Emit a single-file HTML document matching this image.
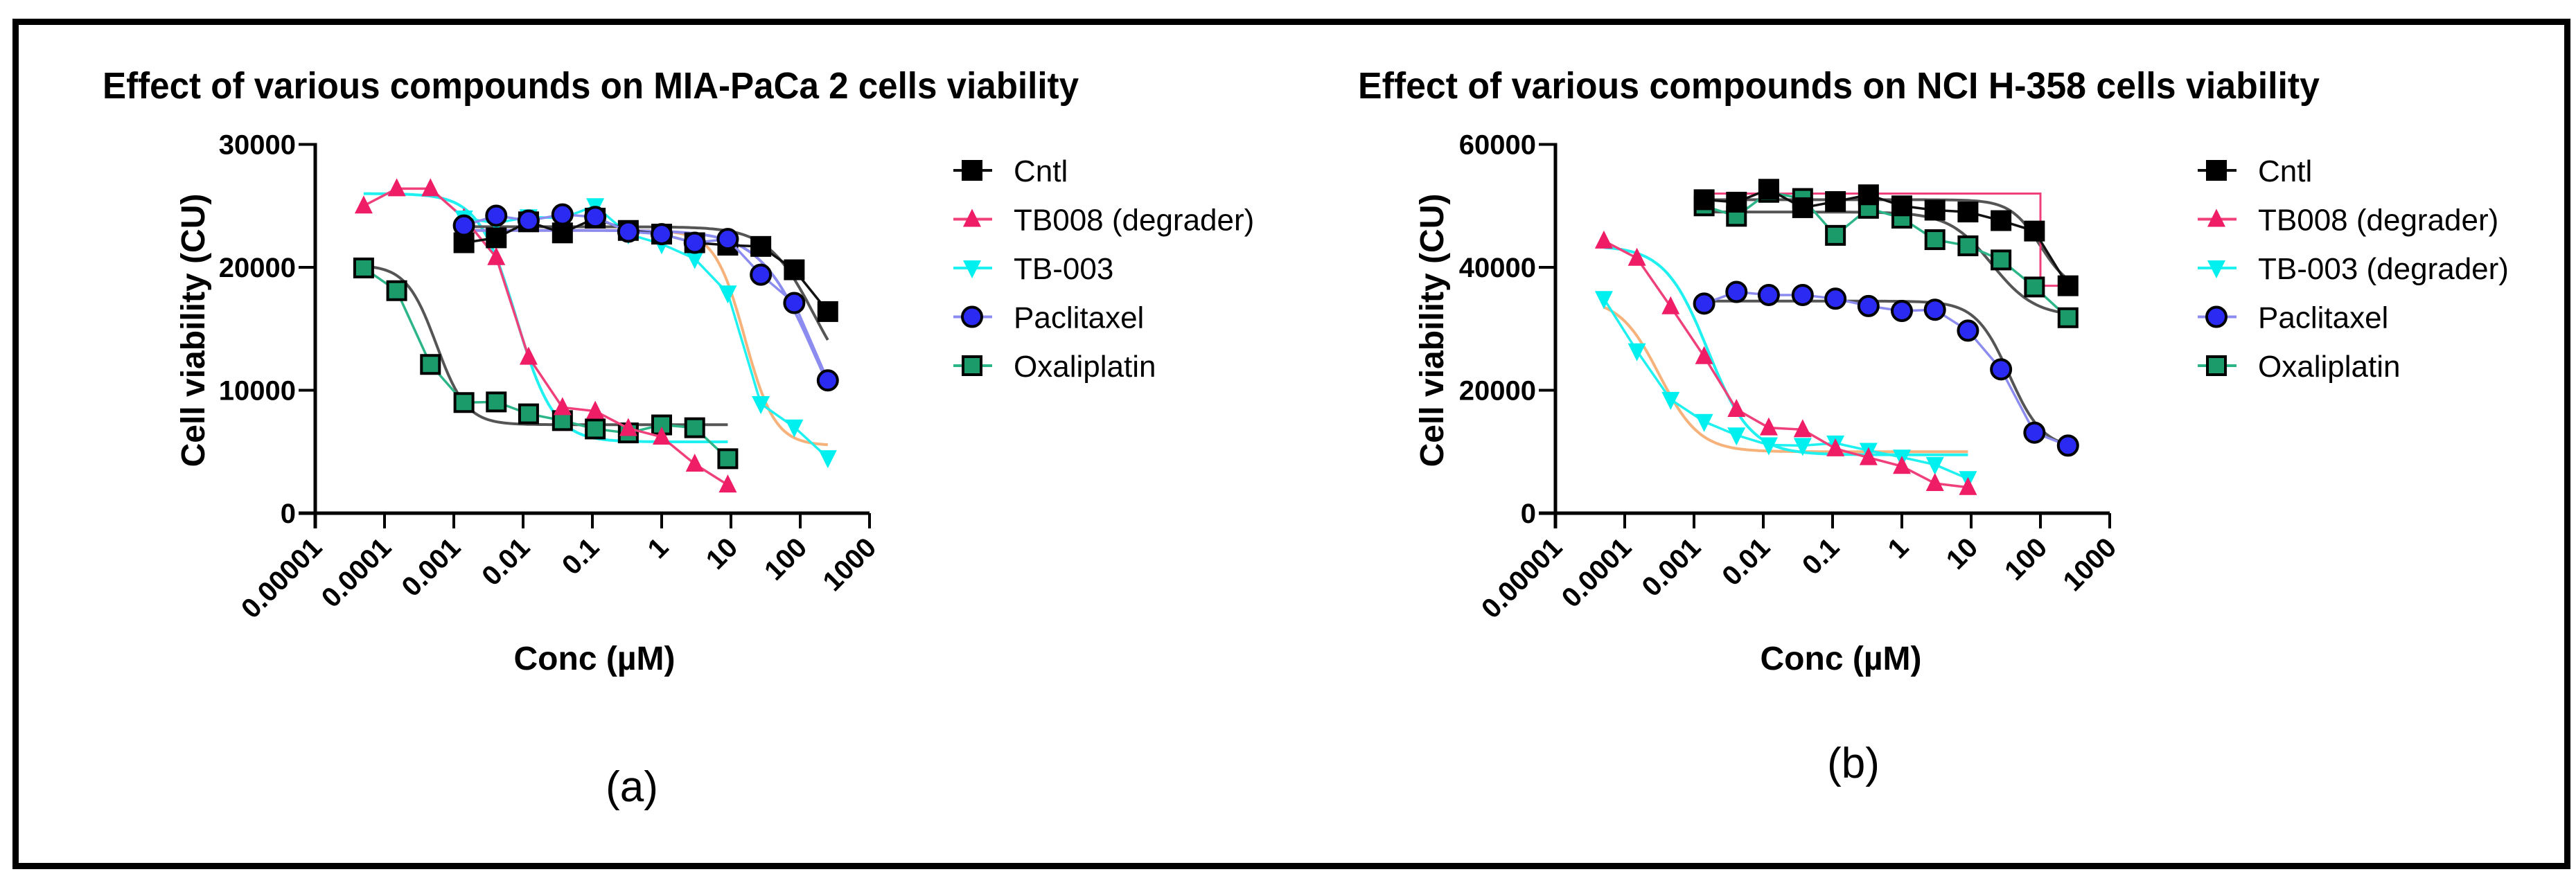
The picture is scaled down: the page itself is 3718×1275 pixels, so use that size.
<!DOCTYPE html>
<html><head><meta charset="utf-8">
<style>
html,body{margin:0;padding:0;background:#fff;}
svg{display:block;}
text{font-family:"Liberation Sans",Arial,sans-serif;}
</style></head>
<body>
<svg id="fig" width="3718" height="1275" viewBox="0 0 3718 1275" xmlns="http://www.w3.org/2000/svg">
<rect x="0" y="0" width="3718" height="1275" fill="#fff"/>
<rect x="22.5" y="31.5" width="3683" height="1219" fill="none" stroke="#000" stroke-width="9"/>
<g id="chartA"></g>
<g id="chartB"></g>
<text x="912" y="1157" font-size="62" text-anchor="middle">(a)</text>
<text x="2675" y="1123" font-size="62" text-anchor="middle">(b)</text>
</svg>
<script>
// ---- shared data ----
const concLow = [0.00005,0.00015,0.00046,0.0014,0.0041,0.012,0.037,0.11,0.33,1,3,9];
const concHigh = [0.0014,0.0041,0.012,0.037,0.11,0.33,1,3,9,27,82,250];
const xTicks = [0.00001,0.0001,0.001,0.01,0.1,1,10,100,1000];
const xTickLabels = ["0.00001","0.0001","0.001","0.01","0.1","1","10","100","1000"];
const seriesNames = ["Cntl","TB008 (degrader)","TB-003","Paclitaxel","Oxaliplatin"];
const seriesNamesB = ["Cntl","TB008 (degrader)","TB-003 (degrader)","Paclitaxel","Oxaliplatin"];

// ---- chart (a) data ----
const aYTicks = [0,10000,20000,30000];
const aCntl = [22000,22400,23700,22800,24000,23000,22700,22000,21800,21700,19800,16400];
const aTB008 = [25000,26400,26400,24000,20800,12700,8600,8300,6900,6200,4000,2300];
const aTB003 = [24000,23600,24100,24000,25000,22700,21900,20700,17900,8900,7000,4500];
const aPacli = [23400,24200,23800,24300,24100,22900,22700,22000,22300,19400,17100,10800];
const aOxali = [19950,18100,12100,9000,9050,8080,7530,6850,6530,7180,6950,4430];
// fit curves: [top, bottom, logEC50, hill]
const aFitCntl = [23300,9000,2.2,1.3];
const aFitTB008 = [26000,5800,-2.1,1.6];
const aFitTB003 = [23000,5500,1.2,2.0];
const aFitPacli = [23000,3000,2.2,1.1];
const aFitOxali = [20200,7200,-3.25,2.0];

// ---- chart (b) data ----
const bYTicks = [0,20000,40000,60000];
const bCntl = [51000,50600,52700,49700,50700,51800,50000,49300,49000,47600,45900,37000];
const bTB008 = [44300,41500,33600,25500,16900,13900,13600,10500,9050,7630,4850,4200];
const bTB003 = [34900,26400,18500,14900,12700,11100,11000,11400,10200,9100,7900,5600];
const bPacli = [34100,36000,35500,35500,34900,33700,32900,33100,29700,23400,13100,11000];
const bOxali = [50000,48300,52200,51200,45200,49600,48000,44500,43500,41200,36800,31800];
const bFitCntl = [51000,36000,2.0,2.0];
const bFitOxali = [49000,32000,1.3,1.4];
const bFitPacli = [34500,10500,1.55,1.8];
const bFitTB008 = [43500,9500,-2.8,1.4];
const bFitTB003 = [35000,10000,-3.5,1.5];
const bStepX = [0.0016,100,100,250];
const bStepY = [52000,52000,37000,37000];

const NS = "http://www.w3.org/2000/svg";
function mk(tag, attrs, parent){
  const e = document.createElementNS(NS, tag);
  for (const k in attrs) e.setAttribute(k, attrs[k]);
  parent.appendChild(e);
  return e;
}

const COL = {
  cntl:{line:"#111", fill:"#000"},
  tb008:{line:"#f0407a", fill:"#ee1d66"},
  tb003:{line:"#1ff0f0", fill:"#00f0f0"},
  pacli:{line:"#8c8cf0", fill:"#2a2af2"},
  oxali:{line:"#2db58a", fill:"#1b9a6a"}
};

function drawChart(g, o){
  const x0 = o.x0, y0 = 741, yTop = 208.5;
  const sx = v => x0 + (Math.log10(v) + 5) * 100;
  const sy = v => y0 - (v / o.yMax) * (y0 - yTop);
  let t = mk("text",{x:o.titleX,y:142,"font-size":54,"font-weight":"bold",textLength:o.titleW,lengthAdjust:"spacingAndGlyphs"},g);
  
  
  t.textContent = o.title;
  let ya = mk("line",{x1:x0,y1:yTop-2,x2:x0,y2:y0+22,stroke:"#000","stroke-width":5},g);
  
  
  let xa = mk("line",{x1:x0-24,y1:y0,x2:x0+800,y2:y0,stroke:"#000","stroke-width":5},g);
  
  
  o.yTicks.forEach(v=>{
    const y = sy(v);
    let tk = mk("line",{x1:x0-24,y1:y,x2:x0,y2:y,stroke:"#000","stroke-width":4},g);
    
    
    let lb = mk("text",{x:x0-28,y:y+14,"font-size":40,"font-weight":"bold","text-anchor":"end"},g);
    
    
    lb.textContent = String(v);
  });
  xTicks.forEach((v,i)=>{
    const x = sx(v);
    let tk = mk("line",{x1:x,y1:y0,x2:x,y2:y0+22,stroke:"#000","stroke-width":4},g);
    
    
    const px = x+12, py = y0+52;
    let lb = mk("text",{x:px,y:py,"font-size":40,"font-weight":"bold","text-anchor":"end",transform:`rotate(-45 ${px} ${py})`},g);
    
    
    lb.textContent = xTickLabels[i];
  });
  let yt = mk("text",{x:0,y:0,"font-size":48,"font-weight":"bold","text-anchor":"middle",transform:`translate(${o.yTitleX} ${477}) rotate(-90)`},g);
  
  
  yt.textContent = "Cell viability (CU)";
  let xt = mk("text",{x:o.xTitleX,y:967,"font-size":48,"font-weight":"bold","text-anchor":"middle"},g);
  
  
  xt.textContent = "Conc (\u00b5M)";

  function fit(p, lo, hi, color, name){
    const pts = [];
    const a = Math.log10(lo), b = Math.log10(hi);
    for (let i=0;i<=120;i++){
      const lx = a + (b-a)*i/120;
      const v = p[1] + (p[0]-p[1]) / (1 + Math.pow(10, (lx - p[2]) * p[3]));
      pts.push((x0+(lx+5)*100).toFixed(1)+","+sy(v).toFixed(1));
    }
    let pl = mk("polyline",{points:pts.join(" "),fill:"none",stroke:color,"stroke-width":4},g);
    
    
  }
  o.fits.forEach(f=>fit(f.p, f.lo, f.hi, f.color, f.name));
  if (o.step){
    let pl = mk("polyline",{points:o.step[0].map((v,i)=>sx(v)+","+sy(o.step[1][i])).join(" "),fill:"none",stroke:"#f0407a","stroke-width":3},g);
    
    
  }

  function marker(kind, cx, cy, col, parent, name){
    let m;
    if (kind==="sq") m = mk("rect",{x:cx-13,y:cy-13,width:26,height:26,fill:col.fill,stroke:"#000","stroke-width":4},parent);
    else if (kind==="circ") m = mk("circle",{cx:cx,cy:cy,r:14,fill:col.fill,stroke:"#000","stroke-width":4},parent);
    else if (kind==="up") m = mk("polygon",{points:`${cx},${cy-15} ${cx+13},${cy+11} ${cx-13},${cy+11}`,fill:col.fill},parent);
    else m = mk("polygon",{points:`${cx},${cy+15} ${cx+13},${cy-11} ${cx-13},${cy-11}`,fill:col.fill},parent);
    
    
  }
  o.series.forEach(s=>{
    const sg = mk("g",{},g);
    
    
    let pl = mk("polyline",{points:s.x.map((c,i)=>sx(c)+","+sy(s.y[i])).join(" "),fill:"none",stroke:s.col.line,"stroke-width":3.5},sg);
    
    
    s.x.forEach((c,i)=>marker(s.kind, sx(c), sy(s.y[i]), s.col, sg, s.name+'-point'));
  });

  const kinds = ["sq","up","down","circ","sq"];
  const cols = [COL.cntl,COL.tb008,COL.tb003,COL.pacli,COL.oxali];
  o.legendNames.forEach((n,i)=>{
    const ly = 246 + i*70.5;
    const lg = mk("g",{},g);
    
    
    let ll = mk("line",{x1:o.legX-27,y1:ly,x2:o.legX+29,y2:ly,stroke:cols[i].line,"stroke-width":4},lg);
    
    
    marker(kinds[i], o.legX, ly, cols[i], lg, 'legend-marker');
    let lt = mk("text",{x:o.legX+60,y:ly+16,"font-size":44},lg);
    
    
    lt.textContent = n;
  });
}

drawChart(document.getElementById("chartA"),{
  x0:455, yMax:30000, yTicks:aYTicks,
  title:"Effect of various compounds on MIA-PaCa 2 cells viability", titleX:148, titleW:1409,
  yTitleX:295, xTitleX:858, legX:1403, legendNames:seriesNames,
  fits:[
    {p:aFitOxali, lo:0.00005, hi:9, color:"#555", name:"oxaliplatin-fit"},
    {p:aFitTB008, lo:0.00005, hi:9, color:"#1ff0f0", name:"tb008-fit"},
    {p:aFitTB003, lo:0.0014, hi:250, color:"#f6b27a", name:"tb003-fit"},
    {p:aFitCntl, lo:0.0014, hi:250, color:"#555", name:"cntl-fit"},
    {p:aFitPacli, lo:0.0014, hi:250, color:"#8c8cf0", name:"paclitaxel-fit"}
  ],
  series:[
    {name:"oxaliplatin", x:concLow, y:aOxali, kind:"sq", col:COL.oxali},
    {name:"tb008", x:concLow, y:aTB008, kind:"up", col:COL.tb008},
    {name:"tb003", x:concHigh, y:aTB003, kind:"down", col:COL.tb003},
    {name:"cntl", x:concHigh, y:aCntl, kind:"sq", col:COL.cntl},
    {name:"paclitaxel", x:concHigh, y:aPacli, kind:"circ", col:COL.pacli}
  ]
});

drawChart(document.getElementById("chartB"),{
  x0:2245, yMax:60000, yTicks:bYTicks,
  title:"Effect of various compounds on NCI H-358 cells viability", titleX:1960, titleW:1388,
  yTitleX:2083, xTitleX:2657, legX:3199, legendNames:seriesNamesB,
  step:[bStepX,bStepY],
  fits:[
    {p:bFitTB003, lo:0.00005, hi:9, color:"#f6b27a", name:"tb003-fit"},
    {p:bFitTB008, lo:0.00005, hi:9, color:"#1ff0f0", name:"tb008-fit"},
    {p:bFitCntl, lo:0.0014, hi:250, color:"#555", name:"cntl-fit"},
    {p:bFitOxali, lo:0.0014, hi:250, color:"#555", name:"oxaliplatin-fit"},
    {p:bFitPacli, lo:0.0014, hi:250, color:"#555", name:"paclitaxel-fit"}
  ],
  series:[
    {name:"tb003", x:concLow, y:bTB003, kind:"down", col:COL.tb003},
    {name:"tb008", x:concLow, y:bTB008, kind:"up", col:COL.tb008},
    {name:"paclitaxel", x:concHigh, y:bPacli, kind:"circ", col:COL.pacli},
    {name:"oxaliplatin", x:concHigh, y:bOxali, kind:"sq", col:COL.oxali},
    {name:"cntl", x:concHigh, y:bCntl, kind:"sq", col:COL.cntl}
  ]
});
</script>
</body></html>
